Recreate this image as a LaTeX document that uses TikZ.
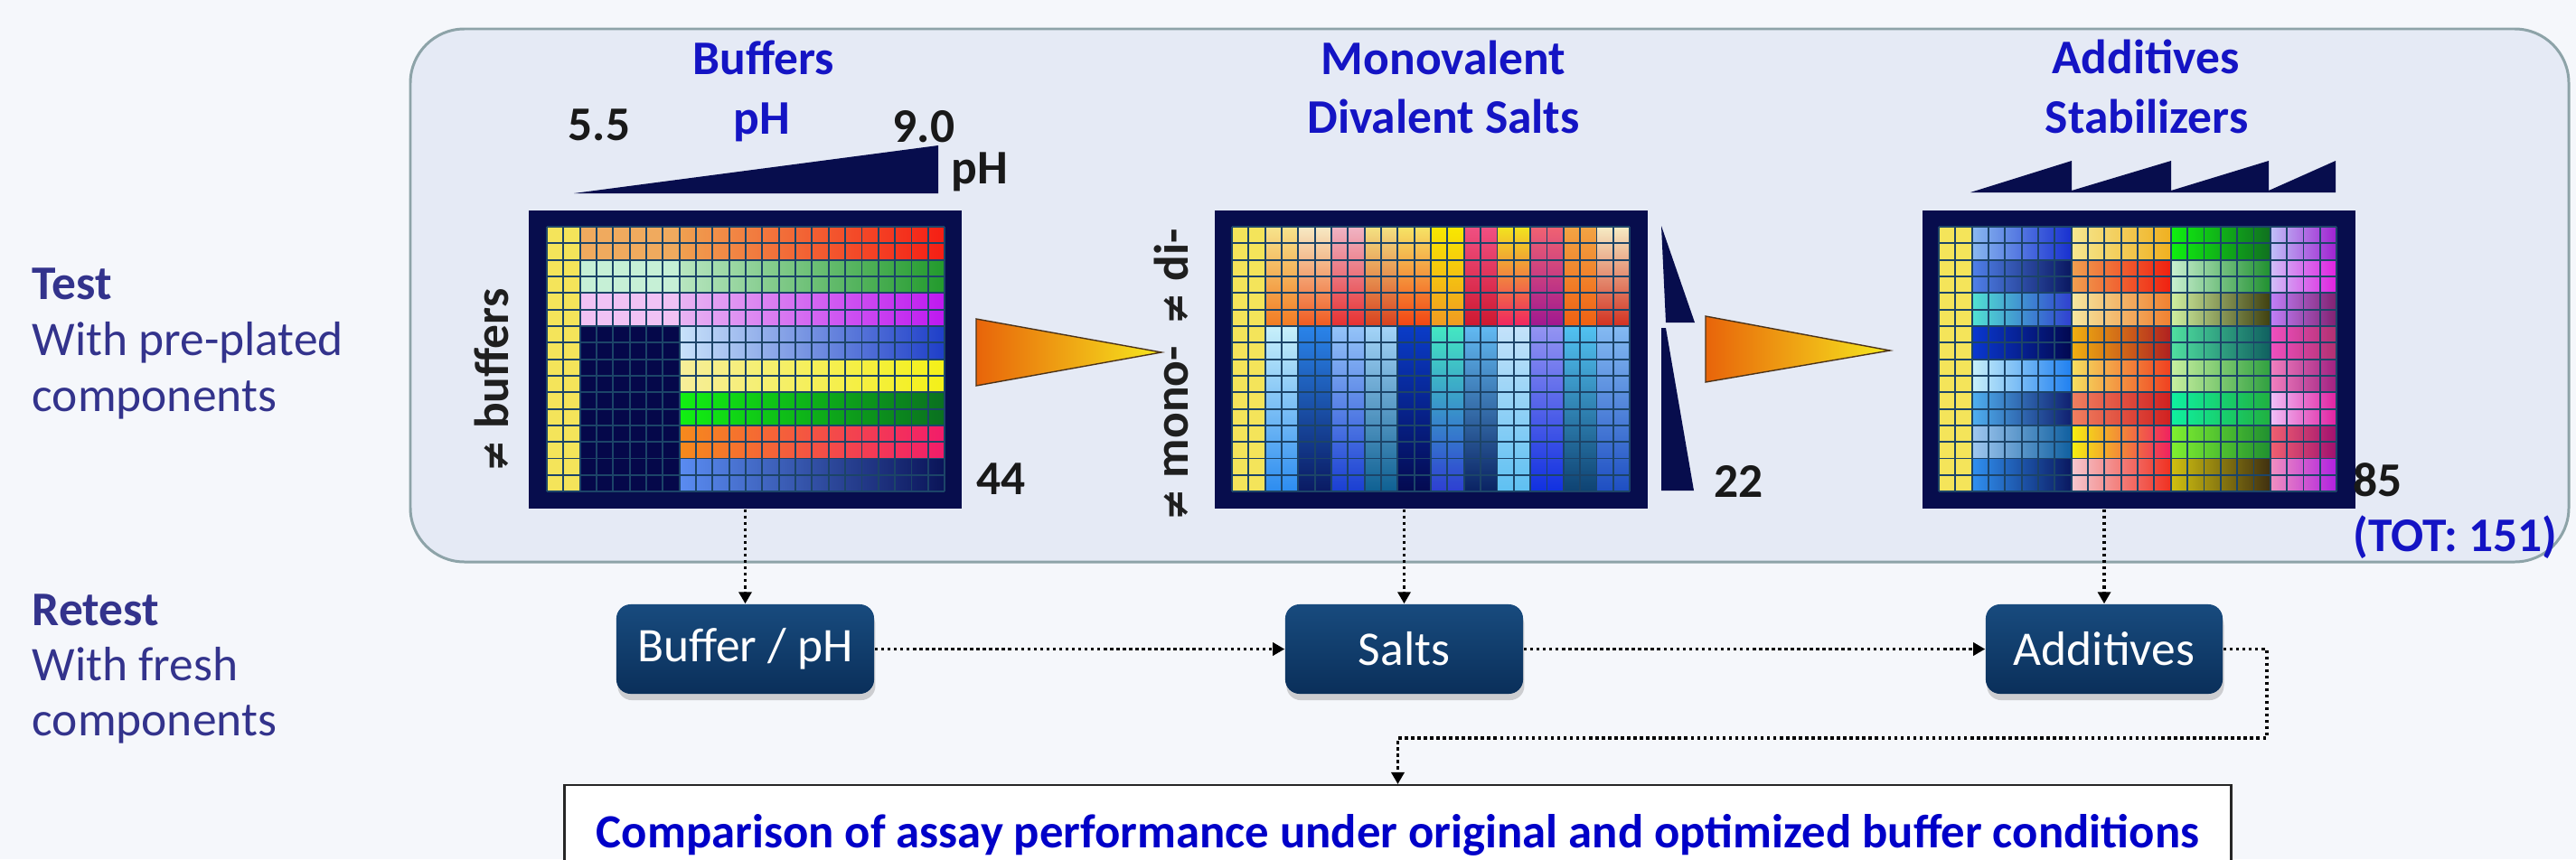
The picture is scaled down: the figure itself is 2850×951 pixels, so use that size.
\documentclass[tikz,border=0pt]{standalone}
\usepackage{fontspec}
\setmainfont{Carlito}
\newfontfamily\dejavu{DejaVu Sans}
\usetikzlibrary{arrows.meta,shadows}

\definecolor{bg}{HTML}{F5F7FB}
\definecolor{panelfill}{HTML}{E5EAF5}
\definecolor{paneledge}{HTML}{8DA3A8}
\definecolor{navy}{HTML}{070D4D}
\definecolor{gridc}{HTML}{1C4468}
\definecolor{labc}{HTML}{33338C}
\definecolor{headc}{HTML}{1414C4}
\definecolor{cmpc}{HTML}{0000C8}
\definecolor{boxtop}{HTML}{184B7E}
\definecolor{boxbot}{HTML}{0A2F5A}
\definecolor{trL}{HTML}{E8640A}
\definecolor{trR}{HTML}{F6E81E}

\newcommand{\bandH}[6]{\definecolor{tmpL}{HTML}{#5}\definecolor{tmpR}{HTML}{#6}\fill[left color=tmpL,right color=tmpR] (#1,#3) rectangle (#2,#4);}
\newcommand{\bandV}[6]{\definecolor{tmpL}{HTML}{#5}\definecolor{tmpR}{HTML}{#6}\fill[top color=tmpL,bottom color=tmpR] (#1,#3) rectangle (#2,#4);}
\newcommand{\bandU}[5]{\definecolor{tmpL}{HTML}{#5}\fill[tmpL] (#1,#3) rectangle (#2,#4);}
\newcommand{\wellgrid}{\foreach \i in {0,...,24} {\draw[gridc,line width=0.55pt] (\i,0) -- (\i,16);}\foreach \j in {0,...,16} {\draw[gridc,line width=0.55pt] (0,\j) -- (24,\j);}}
\newcommand{\neqs}{{\dejavu\fontsize{12}{14}\selectfont ≠}}

\begin{document}
\begin{tikzpicture}[x=0.01cm,y=-0.01cm,
  every node/.style={inner sep=0pt},
  lab/.style={font=\fontsize{15.2}{18}\selectfont, text=labc, anchor=base west},
  labb/.style={font=\fontsize{15.2}{18}\selectfont\bfseries, text=labc, anchor=base west},
  head/.style={font=\fontsize{15.2}{18}\selectfont\bfseries, text=headc, anchor=base},
  num/.style={font=\fontsize{15.2}{18}\selectfont\bfseries, text=black!90, anchor=base west},
  rot/.style={font=\fontsize{15.2}{18}\selectfont\bfseries, text=black!88, rotate=90, anchor=base},
  plate/.style={fill=navy, draw=none, minimum width=4.79cm, minimum height=3.3cm, anchor=north west},
  retbox/.style={rounded corners=4.5pt, top color=boxtop, bottom color=boxbot, text=white,
     font=\fontsize{15.2}{18}\selectfont, minimum height=0.99cm,
     drop shadow={shadow xshift=0.4pt,shadow yshift=-2pt,opacity=0.35}},
  conn/.style={line width=0.9pt, dash pattern=on 1pt off 1pt, -{Triangle[length=3.7pt,width=4pt]}},
  orangetri/.style={left color=trL, right color=trR, draw=black!60!brown, line width=0.4pt}
]
\fill[bg] (0,0) rectangle (2850,951);
\useasboundingbox (0,0) rectangle (2850,951);

% panel
\draw[paneledge, fill=panelfill, line width=0.85pt, rounded corners=17pt] (454,32) rectangle (2842,622);

% left labels
\node[labb] (test) at (35,331) {Test};
\node[lab] (test2) at (35,393) {With pre-plated};
\node[lab] (test3) at (35,455) {components};
\node[labb] (retest) at (35,692) {Retest};
\node[lab] (ret2) at (35,753) {With fresh};
\node[lab] (ret3) at (35,814) {components};

% ---------- plate 1 ----------
\node[head] (h1) at (845,82) {Buffers};
\node[num, anchor=base] (ph55) at (663,155) {5.5};
\node[head] (phb) at (843,148) {pH};
\node[num, anchor=base] (ph90) at (1022,157) {9.0};
\node[num] (phk) at (1052,203) {pH};
\fill[navy] (635,214) -- (1038,161) -- (1038,214) -- cycle;

\node[plate] (p1) at (584,232) {};
\begin{scope}[shift={(605,251)}, x=0.1833cm, y=-0.1831cm]
\bandU{0}{2}{0}{16}{F4E45A}
\bandU{2}{8}{0}{2}{F0AA5E}
\bandH{8}{24}{0}{2}{F0A050}{F51E14}
\bandU{2}{8}{2}{4}{C6F0D6}
\bandH{8}{24}{2}{4}{B8E6C0}{229A2C}
\bandU{2}{8}{4}{6}{F0C2F4}
\bandH{8}{24}{4}{6}{E8B4F2}{BE18F0}
\bandU{2}{8}{6}{16}{05084A}
\bandH{8}{24}{6}{8}{C8E2FA}{1E3EC8}
\bandH{8}{24}{8}{10}{F6EE9A}{F4F018}
\bandH{8}{24}{10}{12}{12F012}{0A7020}
\bandH{8}{24}{12}{14}{F68A1C}{F21C6A}
\bandH{8}{24}{14}{16}{5A8CF2}{0A1458}
\wellgrid
\end{scope}
\node[rot] (rb) at (562,421) {\neqs\ buffers};
\node[num] (n44) at (1080,547) {44};

\draw[orangetri] (1080,353) -- (1285,390) -- (1080,427) -- cycle;

% ---------- plate 2 ----------
\node[head] (h2a) at (1597,82) {Monovalent};
\node[head] (h2b) at (1597,147) {Divalent Salts};
\node[plate] (p2) at (1343,232) {};
\begin{scope}[shift={(1363,251)}, x=0.1833cm, y=-0.1831cm]
\bandU{0}{2}{0}{16}{F4E45A}
\bandV{2}{4}{0}{6}{F6E48C}{F27A22}
\bandV{4}{6}{0}{6}{F6EAC4}{F05A20}
\bandV{6}{8}{0}{6}{F0B4C4}{E63030}
\bandV{8}{10}{0}{6}{F4E282}{D8401E}
\bandV{10}{12}{0}{6}{F6E466}{F24412}
\bandV{12}{14}{0}{6}{F8E800}{F09A22}
\bandV{14}{16}{0}{6}{F05082}{CE1830}
\bandV{16}{18}{0}{6}{F2E41E}{F02460}
\bandV{18}{20}{0}{6}{F06272}{A01890}
\bandV{20}{22}{0}{6}{F2A444}{F06012}
\bandV{22}{24}{0}{6}{F6ECC4}{D23020}
\bandV{2}{4}{6}{16}{C8F0FA}{2C8CF0}
\bandV{4}{6}{6}{16}{2A84EA}{0A1A62}
\bandV{6}{8}{6}{16}{94C4F8}{1A3ED2}
\bandV{8}{10}{6}{16}{A4D4F8}{0E6092}
\bandV{10}{12}{6}{16}{0A3CC8}{040A50}
\bandV{12}{14}{6}{16}{44E8C2}{2E3ED2}
\bandV{14}{16}{6}{16}{62BAF2}{0A2262}
\bandV{16}{18}{6}{16}{C4E2FA}{5EC0F2}
\bandV{18}{20}{6}{16}{9494F2}{1030E0}
\bandV{20}{22}{6}{16}{52C2F2}{0E4272}
\bandV{22}{24}{6}{16}{84BAF2}{1E4EC2}
\wellgrid
\end{scope}
\node[rot] (rm) at (1314,415) {\neqs\ mono-\ \ \neqs\ di-};
\fill[navy] (1838,250) -- (1875,357) -- (1843,357) -- cycle;
\fill[navy] (1838,363) -- (1843,363) -- (1874,543) -- (1838,543) -- cycle;
\node[num] (n22) at (1896,550) {22};

\draw[orangetri] (1887,350) -- (2091,388) -- (1887,423) -- cycle;

% ---------- plate 3 ----------
\node[head] (h3a) at (2374,81) {Additives};
\node[head] (h3b) at (2375,147) {Stabilizers};
\fill[navy] (2180,213) -- (2292,178) -- (2292,211) -- (2402,178) -- (2402,211) -- (2510,178) -- (2510,211) -- (2584,178) -- (2584,213) -- cycle;
\node[plate] (p3) at (2126,232) {};
\begin{scope}[shift={(2145,251)}, x=0.1833cm, y=-0.1831cm]
\bandU{0}{2}{0}{16}{F4E45A}
\bandH{2}{8}{0}{2}{8AB8F0}{1830D0}
\bandH{2}{8}{2}{4}{5080E8}{0A1860}
\bandH{2}{8}{4}{6}{52E2D2}{3040D0}
\bandH{2}{8}{6}{8}{0A38D0}{020850}
\bandH{2}{8}{8}{10}{C8F0FA}{2080F0}
\bandH{2}{8}{10}{12}{50B0F0}{102070}
\bandH{2}{8}{12}{14}{A0C8F0}{1060A0}
\bandH{2}{8}{14}{16}{3090F0}{0A1860}
\bandH{8}{14}{0}{2}{F5E890}{F0B020}
\bandH{8}{14}{2}{4}{F0A050}{F02010}
\bandH{8}{14}{4}{6}{F5E8A0}{F08030}
\bandH{8}{14}{6}{8}{F0B010}{B02020}
\bandH{8}{14}{8}{10}{F5E060}{F04020}
\bandH{8}{14}{10}{12}{F08060}{D02020}
\bandH{8}{14}{12}{14}{F5F010}{F02060}
\bandH{8}{14}{14}{16}{F5C8D0}{F03020}
\bandH{14}{20}{0}{2}{10F010}{107020}
\bandH{14}{20}{2}{4}{C8F0D0}{209030}
\bandH{14}{20}{4}{6}{D0F0A0}{404010}
\bandH{14}{20}{6}{8}{50E0A0}{106060}
\bandH{14}{20}{8}{10}{C8F0A0}{30A040}
\bandH{14}{20}{10}{12}{10F0A0}{20B040}
\bandH{14}{20}{12}{14}{80F030}{209030}
\bandH{14}{20}{14}{16}{D0C010}{403010}
\bandH{20}{24}{0}{2}{C0C0F8}{A020D0}
\bandH{20}{24}{2}{4}{D0C0F8}{E020E0}
\bandH{20}{24}{4}{6}{C080F8}{802070}
\bandH{20}{24}{6}{8}{F050C0}{B03070}
\bandH{20}{24}{8}{10}{F080C0}{A02080}
\bandH{20}{24}{10}{12}{F0C0F8}{E020A0}
\bandH{20}{24}{12}{14}{F06070}{A01070}
\bandH{20}{24}{14}{16}{F090C0}{B020E0}
\wellgrid
\end{scope}
\node[num] (n85) at (2603,549) {85};
\node[num, text=headc] (tot) at (2603,610) {(TOT: 151)};

% ---------- retest row ----------
\node[retbox, minimum width=2.85cm] (bph) at (824.5,718.5) {Buffer / pH};
\node[retbox, minimum width=2.63cm] (salts) at (1553.5,718.5) {Salts};
\node[retbox, minimum width=2.62cm] (add) at (2328,718.5) {Additives};

\node[draw=black!85, line width=0.7pt, fill=white, minimum width=18.43cm, minimum height=1.1cm,
  anchor=north, font=\fontsize{15}{18}\selectfont\bfseries, text=cmpc] (cmp) at (1546.5,868)
  {Comparison of assay performance under original and optimized buffer conditions};

\draw[conn] (bph.north |- p1.south) -- (bph.north);
\draw[conn] (salts.north |- p2.south) -- (salts.north);
\draw[conn] (add.north |- p3.south) -- (add.north);
\draw[conn] (bph.east) -- (salts.west);
\draw[conn] (salts.east) -- (add.west);
\coordinate (c1) at (2508,817);
\draw[conn] (add.east) -- (add.east -| c1) -- (c1) -- (cmp.north |- c1) -- (cmp.north);
\end{tikzpicture}
\end{document}
